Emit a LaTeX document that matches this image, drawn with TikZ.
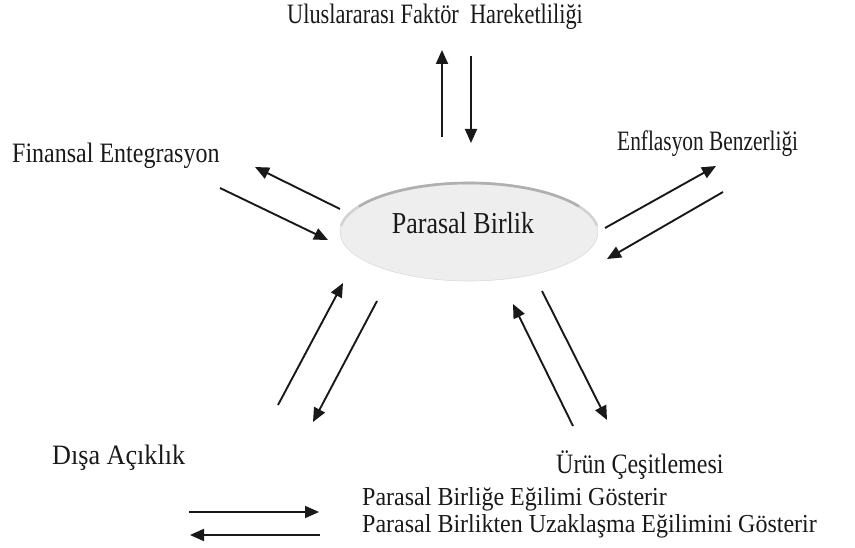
\documentclass[tikz,border=0pt]{standalone}
\usepackage{fontspec}
\usepackage{graphicx}
\setmainfont{Liberation Serif}
\usetikzlibrary{arrows.meta,shapes.geometric}
\newcommand{\vstr}[2][1]{\scalebox{#1}[1.17]{#2}}
\newcommand{\vstrs}[1]{\scalebox{1}[1.08]{#1}}
\begin{document}
\begin{tikzpicture}[x=1pt,y=-1pt,
  lbl/.style={inner sep=0pt, anchor=base west, font=\fontsize{24}{28}\selectfont, text=black!90},
  arr/.style={line width=1.9pt, black!90, -{Triangle[length=14pt,width=12pt]}},
]
\useasboundingbox (0,0) rectangle (855,548);
% central ellipse
\node[ellipse, draw=gray!28, line width=0.6pt, fill=gray!13, minimum width=258pt, minimum height=98pt, inner sep=0pt] (pb) at (469,232) {};
\draw[gray!35, line width=2.6pt, line cap=round] (469,232) ++(188:129 and 49) arc[start angle=188, end angle=352, x radius=129, y radius=49];
\draw[gray!62, line width=2.6pt, line cap=round] (469,232) ++(212:129 and 49) arc[start angle=212, end angle=328, x radius=129, y radius=49];
\node[lbl, anchor=base, font=\fontsize{26}{30}\selectfont] (pbt) at (463,234) {\vstr{Parasal Birlik}};
% labels
\node[lbl] (ufh) at (287,24) {\vstr[0.93]{Uluslararası Faktör\ \ Hareketliliği}};
\node[lbl] (fe) at (12,163) {\vstr{Finansal Entegrasyon}};
\node[lbl] (eb) at (617,151) {\vstr[0.89]{Enflasyon Benzerliği}};
\node[lbl] (da) at (52,464) {\vstr[1.09]{Dışa Açıklık}};
\node[lbl] (uc) at (556,473) {\vstr{Ürün Çeşitlemesi}};
\node[lbl] (lg1) at (362,505) {\vstrs{Parasal Birliğe Eğilimi Gösterir}};
\node[lbl] (lg2) at (362,532) {\vstrs{Parasal Birlikten Uzaklaşma Eğilimini Gösterir}};
% arrow end points
\coordinate (a1s) at (442,137); \coordinate (a1e) at (442,50);
\coordinate (a2s) at (471,56);  \coordinate (a2e) at (471,143);
\coordinate (b1s) at (340,209); \coordinate (b1e) at (255,167);
\coordinate (b2s) at (220,188); \coordinate (b2e) at (328,240);
\coordinate (c1s) at (605,228); \coordinate (c1e) at (716,166);
\coordinate (c2s) at (723,192); \coordinate (c2e) at (607,259);
\coordinate (d1s) at (278,405); \coordinate (d1e) at (343,283);
\coordinate (d2s) at (377,301); \coordinate (d2e) at (313,422);
\coordinate (e1s) at (573,426); \coordinate (e1e) at (513,304);
\coordinate (e2s) at (542,291); \coordinate (e2e) at (607,420);
\coordinate (l1s) at (189,512); \coordinate (l1e) at (319,512);
\coordinate (l2s) at (320,535); \coordinate (l2e) at (190,535);
\foreach \p in {a1,a2,b1,b2,c1,c2,d1,d2,e1,e2,l1,l2}
  \draw[arr] (\p s) -- (\p e);
\end{tikzpicture}
\end{document}
